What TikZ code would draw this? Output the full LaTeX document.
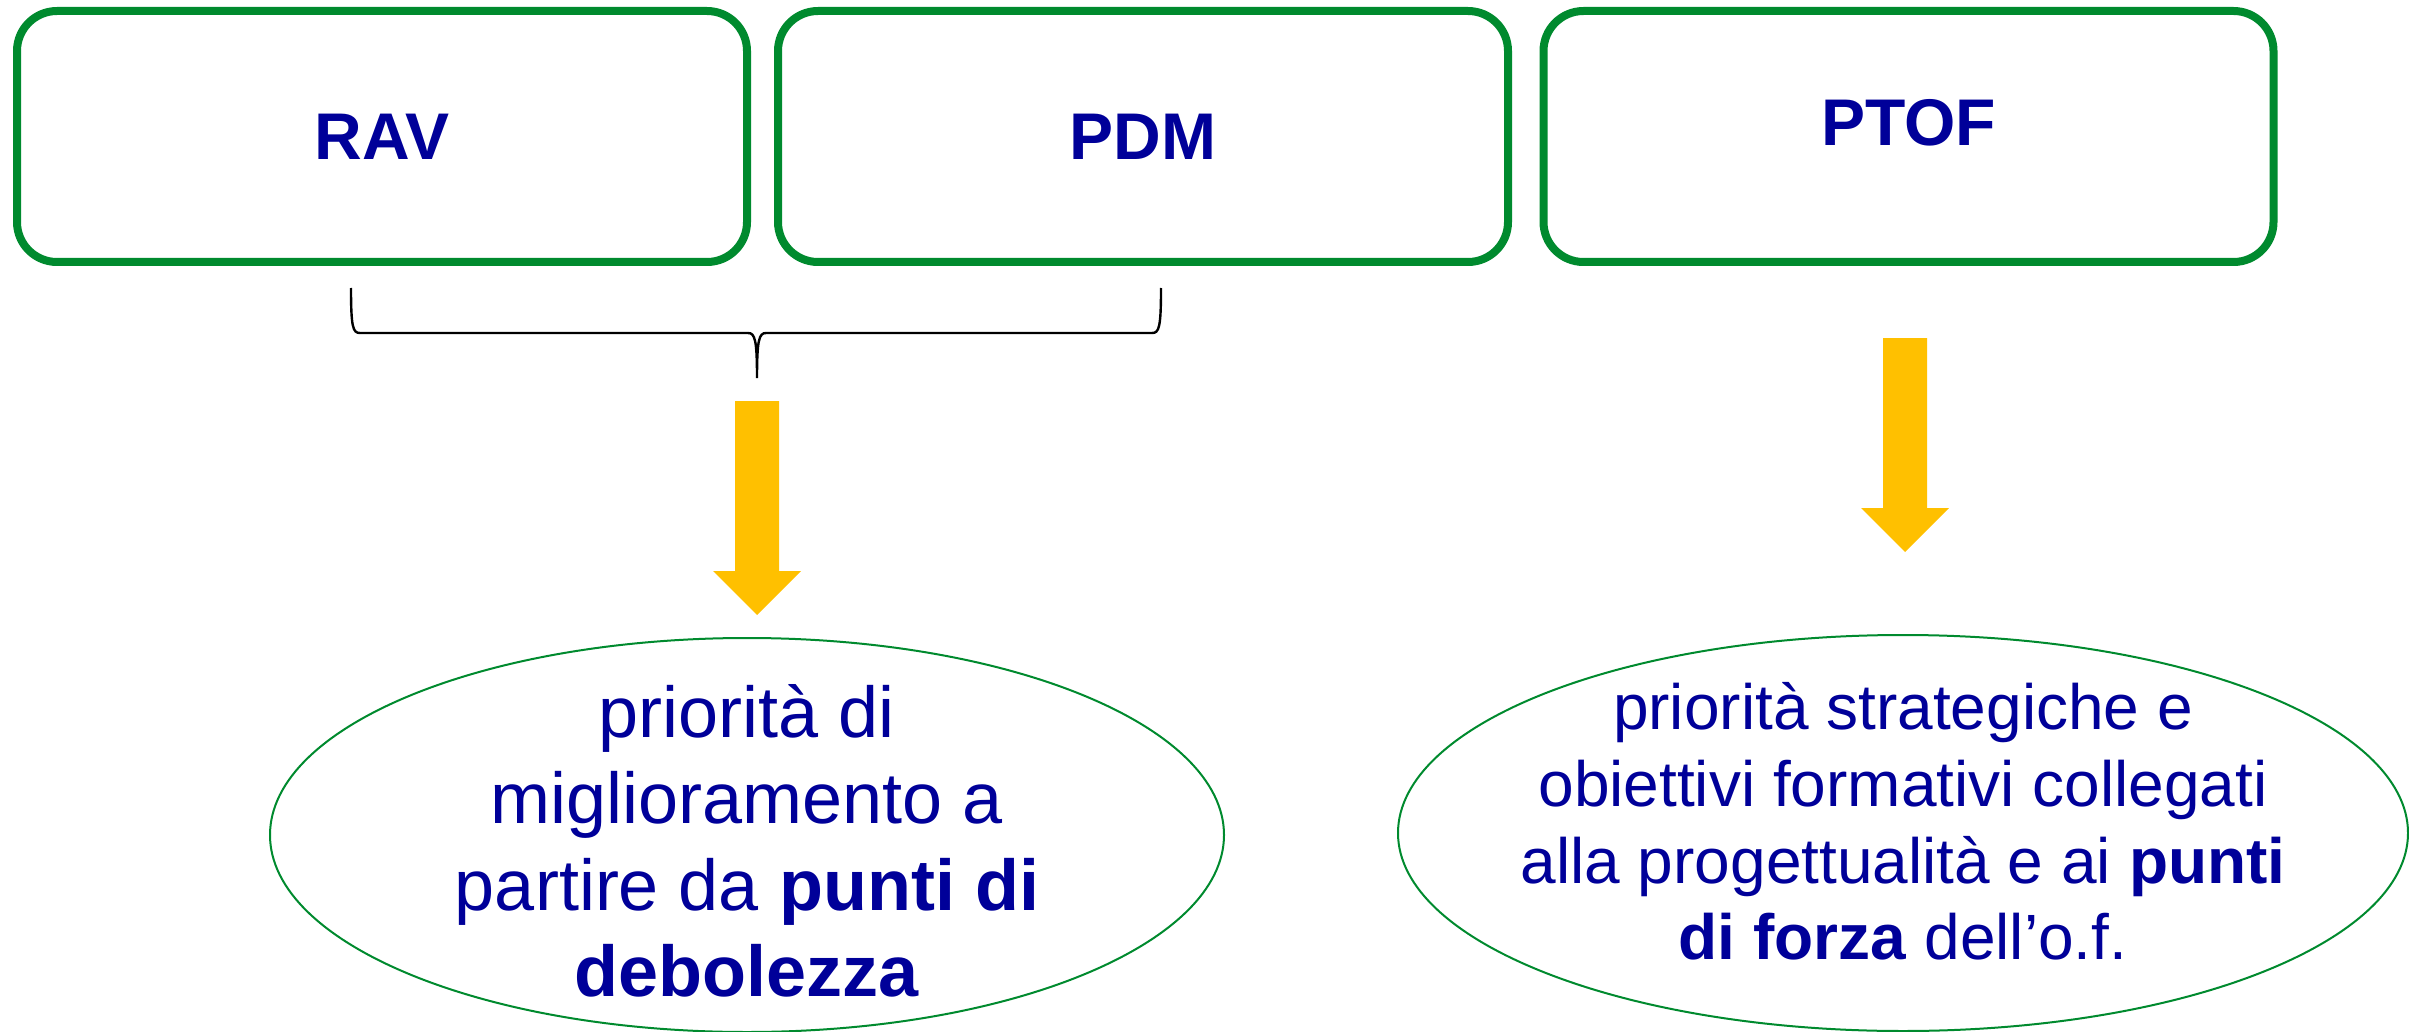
\documentclass[tikz,border=0pt]{standalone}
\usepackage{fontspec}
\setmainfont{Liberation Sans}
\usepackage{xcolor}
\usetikzlibrary{shapes.geometric}
\definecolor{docgreen}{RGB}{0,138,46}
\definecolor{docblue}{RGB}{0,0,153}
\definecolor{docgold}{RGB}{255,192,0}

\begin{document}
\begin{tikzpicture}[x=0.5pt,y=-0.5pt,
	title/.style={text=docblue,font=\fontsize{33}{40}\selectfont\bfseries},
	doc/.style={title,draw=docgreen,line width=4pt,rounded corners=20pt,minimum width=365pt,minimum height=125.5pt,inner sep=0pt},
	oval/.style={ellipse,draw=docgreen,line width=1pt,inner sep=0pt},
	ovaltext/.style={text=docblue,align=center}]
	\useasboundingbox (0,0) rectangle (2409,1032);
	% the three documents
	\node[doc] (rav) at (382,136.5) {RAV};
	\node[doc] (pdm) at (1143,136.5) {PDM};
	\node[doc] (ptof) at (1908.5,136.5) {};
	\node[title] (ptoftext) at ([yshift=7pt]ptof.center) {PTOF};
	% brace under RAV and PDM
	\coordinate (bl) at (351,288);
	\coordinate (br) at (1161,288);
	\coordinate (tip) at (757,378);
	\draw[line width=1.2pt] (bl) .. controls (351,328) and (353,333) .. (360,333) -- (748,333)
		.. controls (755,333) and (757,340) .. (tip)
		.. controls (757,340) and (759,333) .. (766,333) -- (1152,333)
		.. controls (1159,333) and (1161,328) .. (br);
	% yellow arrows
	\foreach \x/\y in {757/401,1905/338}{
		\fill[docgold] (\x-22,\y) -- (\x+22,\y) -- (\x+22,\y+170) -- (\x+44,\y+170) -- (\x,\y+214) -- (\x-44,\y+170) -- (\x-22,\y+170) -- cycle;
	}
	% priorities
	\node[oval,minimum width=477pt,minimum height=197pt] (weak) at (747,835) {};
	\node[ovaltext,font=\fontsize{36}{43.2}\selectfont] (weaktext) at ([yshift=-3pt]weak.center)
		{priorità di\\miglioramento a\\partire da \textbf{punti di}\\\textbf{debolezza}};
	\node[oval,minimum width=505pt,minimum height=198pt] (strong) at (1903,833) {};
	\node[ovaltext,font=\fontsize{32}{38.4}\selectfont] (strongtext) at ([yshift=5.75pt]strong.center)
		{priorità strategiche e\\obiettivi formativi collegati\\alla progettualità e ai \textbf{punti}\\\textbf{di forza} dell’o.f.};
\end{tikzpicture}
\end{document}
